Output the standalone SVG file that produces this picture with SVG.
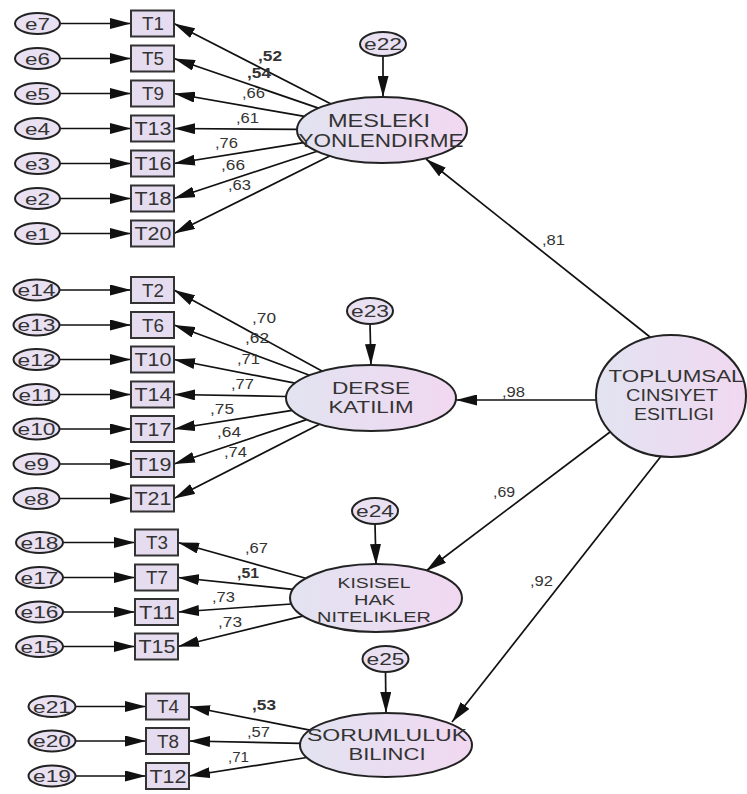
<svg xmlns="http://www.w3.org/2000/svg" width="747" height="794" viewBox="0 0 747 794">
<defs>
<linearGradient id="gl" x1="0" y1="0" x2="1" y2="0">
<stop offset="0" stop-color="#e2e3f1"/>
<stop offset="1" stop-color="#f1d8f1"/>
</linearGradient>
<marker id="ah" markerUnits="userSpaceOnUse" markerWidth="21" markerHeight="11" refX="21" refY="5.5" orient="auto">
<path d="M0,0 L21,5.5 L0,11 z" fill="#111"/>
</marker>
</defs>
<style>
.lat{fill:url(#gl);stroke:#222;stroke-width:2}
.err{fill:#e9e1f2;stroke:#222;stroke-width:2}
.obs{fill:#e6dcef;stroke:#333;stroke-width:2}
.c{stroke:#111;stroke-width:1.7;fill:none;marker-end:url(#ah)}
text{font-family:"Liberation Sans",Arial,sans-serif;fill:#333}
.t{font-size:18px;text-anchor:middle}
.e{font-size:17px;text-anchor:middle}
.w{font-size:14px}
.b{font-weight:bold}
.ln{font-size:17.5px;text-anchor:middle}
.lm{font-size:16px;text-anchor:middle}
.ls{font-size:14.5px;text-anchor:middle}
</style>
<rect width="747" height="794" fill="#fff"/>
<g id="connectors">
<path class="c" d="M60,23.5 L131,23.5"/>
<path class="c" d="M60,58.5 L131,58.5"/>
<path class="c" d="M60,93.5 L131,93.5"/>
<path class="c" d="M60,128.5 L131,128.5"/>
<path class="c" d="M60,163.5 L131,163.5"/>
<path class="c" d="M60,198.5 L131,198.5"/>
<path class="c" d="M60,233.5 L131,233.5"/>
<path class="c" d="M59.5,290 L131,290"/>
<path class="c" d="M59.5,325 L131,325"/>
<path class="c" d="M59.5,359.5 L131,359.5"/>
<path class="c" d="M59.5,394.5 L131,394.5"/>
<path class="c" d="M59.5,429 L131,429"/>
<path class="c" d="M59.5,464 L131,464"/>
<path class="c" d="M59.5,498.5 L131,498.5"/>
<path class="c" d="M63,542.5 L135,542.5"/>
<path class="c" d="M63,577.5 L135,577.5"/>
<path class="c" d="M63,612 L135,612"/>
<path class="c" d="M63,646.5 L135,646.5"/>
<path class="c" d="M75.5,706.5 L146,706.5"/>
<path class="c" d="M75.5,741 L146,741"/>
<path class="c" d="M75.5,776 L146,776"/>
<path class="c" d="M330.6,103.7 L174,23.5"/>
<path class="c" d="M318.4,108.1 L174,58.5"/>
<path class="c" d="M304.5,116.4 L174,93.5"/>
<path class="c" d="M297,129.4 L174,128.5"/>
<path class="c" d="M303.5,142.6 L174,163.5"/>
<path class="c" d="M317.2,151.3 L174,198.5"/>
<path class="c" d="M329.7,156 L174,233.5"/>
<path class="c" d="M321.9,371.1 L174,290"/>
<path class="c" d="M309.5,375.2 L174,325"/>
<path class="c" d="M295.1,383.2 L174,359.5"/>
<path class="c" d="M286.1,396.5 L174,394.5"/>
<path class="c" d="M292.2,410.4 L174,429"/>
<path class="c" d="M306.6,419.6 L174,464"/>
<path class="c" d="M319.5,424.3 L174,498.5"/>
<path class="c" d="M306.6,578.5 L178,542.5"/>
<path class="c" d="M293,589.4 L178,577.5"/>
<path class="c" d="M291.4,604 L178,612"/>
<path class="c" d="M303.5,615.8 L178,646.5"/>
<path class="c" d="M309.9,730.1 L189,706.5"/>
<path class="c" d="M300.1,743.3 L189,741"/>
<path class="c" d="M306.8,757.5 L189,776"/>
<path class="c" d="M383,56 L383,97"/>
<path class="c" d="M370,324 L371,365"/>
<path class="c" d="M375,524 L376,565"/>
<path class="c" d="M385.5,672 L386,713"/>
<path class="c" d="M650,337 L426,159"/>
<path class="c" d="M597,400 L456,400"/>
<path class="c" d="M610,432 L426,571"/>
<path class="c" d="M662,455 L452,722"/>
<text class="w b" x="258" y="61" textLength="24" lengthAdjust="spacingAndGlyphs">,52</text>
<text class="w b" x="247" y="78" textLength="24" lengthAdjust="spacingAndGlyphs">,54</text>
<text class="w" x="242" y="98" textLength="23" lengthAdjust="spacingAndGlyphs">,66</text>
<text class="w" x="236" y="123" textLength="23" lengthAdjust="spacingAndGlyphs">,61</text>
<text class="w" x="215" y="148" textLength="23" lengthAdjust="spacingAndGlyphs">,76</text>
<text class="w" x="221" y="170" textLength="24" lengthAdjust="spacingAndGlyphs">,66</text>
<text class="w" x="228" y="190" textLength="23" lengthAdjust="spacingAndGlyphs">,63</text>
<text class="w" x="252" y="323" textLength="24" lengthAdjust="spacingAndGlyphs">,70</text>
<text class="w" x="245" y="343" textLength="24" lengthAdjust="spacingAndGlyphs">,62</text>
<text class="w" x="237" y="364" textLength="23" lengthAdjust="spacingAndGlyphs">,71</text>
<text class="w" x="231" y="389" textLength="23" lengthAdjust="spacingAndGlyphs">,77</text>
<text class="w" x="210" y="414" textLength="24" lengthAdjust="spacingAndGlyphs">,75</text>
<text class="w" x="217" y="437" textLength="24" lengthAdjust="spacingAndGlyphs">,64</text>
<text class="w" x="224" y="457" textLength="23" lengthAdjust="spacingAndGlyphs">,74</text>
<text class="w" x="245" y="553" textLength="23" lengthAdjust="spacingAndGlyphs">,67</text>
<text class="w b" x="237" y="578" textLength="22" lengthAdjust="spacingAndGlyphs">,51</text>
<text class="w" x="212" y="602" textLength="23" lengthAdjust="spacingAndGlyphs">,73</text>
<text class="w" x="218" y="627" textLength="24" lengthAdjust="spacingAndGlyphs">,73</text>
<text class="w b" x="252" y="710" textLength="24" lengthAdjust="spacingAndGlyphs">,53</text>
<text class="w" x="247" y="737" textLength="23" lengthAdjust="spacingAndGlyphs">,57</text>
<text class="w" x="228" y="762" textLength="21" lengthAdjust="spacingAndGlyphs">,71</text>
<text class="w" x="542" y="245" textLength="23" lengthAdjust="spacingAndGlyphs">,81</text>
<text class="w" x="502" y="397" textLength="23" lengthAdjust="spacingAndGlyphs">,98</text>
<text class="w" x="493" y="497" textLength="22" lengthAdjust="spacingAndGlyphs">,69</text>
<text class="w" x="530" y="586" textLength="23" lengthAdjust="spacingAndGlyphs">,92</text>
</g>
<g id="T1"><rect class="obs" x="131" y="10.5" width="43" height="26"/><text class="t" x="153" y="30" textLength="22" lengthAdjust="spacingAndGlyphs">T1</text></g>
<g id="T5"><rect class="obs" x="131" y="45.5" width="43" height="26"/><text class="t" x="153" y="65" textLength="22" lengthAdjust="spacingAndGlyphs">T5</text></g>
<g id="T9"><rect class="obs" x="131" y="80.5" width="43" height="26"/><text class="t" x="153" y="100" textLength="22" lengthAdjust="spacingAndGlyphs">T9</text></g>
<g id="T13"><rect class="obs" x="131" y="115.5" width="43" height="26"/><text class="t" x="153" y="135" textLength="37" lengthAdjust="spacingAndGlyphs">T13</text></g>
<g id="T16"><rect class="obs" x="131" y="150.5" width="43" height="26"/><text class="t" x="153" y="170" textLength="37" lengthAdjust="spacingAndGlyphs">T16</text></g>
<g id="T18"><rect class="obs" x="131" y="185.5" width="43" height="26"/><text class="t" x="153" y="205" textLength="37" lengthAdjust="spacingAndGlyphs">T18</text></g>
<g id="T20"><rect class="obs" x="131" y="220.5" width="43" height="26"/><text class="t" x="153" y="240" textLength="37" lengthAdjust="spacingAndGlyphs">T20</text></g>
<g id="e7"><ellipse class="err" cx="37.5" cy="23.5" rx="22.5" ry="10.5"/><text class="e" x="37.5" y="29.5" textLength="25" lengthAdjust="spacingAndGlyphs">e7</text></g>
<g id="e6"><ellipse class="err" cx="37.5" cy="58.5" rx="22.5" ry="10.5"/><text class="e" x="37.5" y="64.5" textLength="25" lengthAdjust="spacingAndGlyphs">e6</text></g>
<g id="e5"><ellipse class="err" cx="37.5" cy="93.5" rx="22.5" ry="10.5"/><text class="e" x="37.5" y="99.5" textLength="25" lengthAdjust="spacingAndGlyphs">e5</text></g>
<g id="e4"><ellipse class="err" cx="37.5" cy="128.5" rx="22.5" ry="10.5"/><text class="e" x="37.5" y="134.5" textLength="25" lengthAdjust="spacingAndGlyphs">e4</text></g>
<g id="e3"><ellipse class="err" cx="37.5" cy="163.5" rx="22.5" ry="10.5"/><text class="e" x="37.5" y="169.5" textLength="25" lengthAdjust="spacingAndGlyphs">e3</text></g>
<g id="e2"><ellipse class="err" cx="37.5" cy="198.5" rx="22.5" ry="10.5"/><text class="e" x="37.5" y="204.5" textLength="25" lengthAdjust="spacingAndGlyphs">e2</text></g>
<g id="e1"><ellipse class="err" cx="37.5" cy="233.5" rx="22.5" ry="10.5"/><text class="e" x="37.5" y="239.5" textLength="25" lengthAdjust="spacingAndGlyphs">e1</text></g>
<g id="T2"><rect class="obs" x="131" y="277" width="43" height="26"/><text class="t" x="153" y="296.5" textLength="22" lengthAdjust="spacingAndGlyphs">T2</text></g>
<g id="T6"><rect class="obs" x="131" y="312" width="43" height="26"/><text class="t" x="153" y="331.5" textLength="22" lengthAdjust="spacingAndGlyphs">T6</text></g>
<g id="T10"><rect class="obs" x="131" y="346.5" width="43" height="26"/><text class="t" x="153" y="366" textLength="37" lengthAdjust="spacingAndGlyphs">T10</text></g>
<g id="T14"><rect class="obs" x="131" y="381.5" width="43" height="26"/><text class="t" x="153" y="401" textLength="37" lengthAdjust="spacingAndGlyphs">T14</text></g>
<g id="T17"><rect class="obs" x="131" y="416" width="43" height="26"/><text class="t" x="153" y="435.5" textLength="37" lengthAdjust="spacingAndGlyphs">T17</text></g>
<g id="T19"><rect class="obs" x="131" y="451" width="43" height="26"/><text class="t" x="153" y="470.5" textLength="37" lengthAdjust="spacingAndGlyphs">T19</text></g>
<g id="T21"><rect class="obs" x="131" y="485.5" width="43" height="26"/><text class="t" x="153" y="505" textLength="37" lengthAdjust="spacingAndGlyphs">T21</text></g>
<g id="e14"><ellipse class="err" cx="36.5" cy="290" rx="23" ry="10.5"/><text class="e" x="36.5" y="296" textLength="38" lengthAdjust="spacingAndGlyphs">e14</text></g>
<g id="e13"><ellipse class="err" cx="36.5" cy="325" rx="23" ry="10.5"/><text class="e" x="36.5" y="331" textLength="38" lengthAdjust="spacingAndGlyphs">e13</text></g>
<g id="e12"><ellipse class="err" cx="36.5" cy="359.5" rx="23" ry="10.5"/><text class="e" x="36.5" y="365.5" textLength="38" lengthAdjust="spacingAndGlyphs">e12</text></g>
<g id="e11"><ellipse class="err" cx="36.5" cy="394.5" rx="23" ry="10.5"/><text class="e" x="36.5" y="400.5" textLength="36" lengthAdjust="spacingAndGlyphs">e11</text></g>
<g id="e10"><ellipse class="err" cx="36.5" cy="429" rx="23" ry="10.5"/><text class="e" x="36.5" y="435" textLength="38" lengthAdjust="spacingAndGlyphs">e10</text></g>
<g id="e9"><ellipse class="err" cx="36.5" cy="464" rx="23" ry="10.5"/><text class="e" x="36.5" y="470" textLength="25" lengthAdjust="spacingAndGlyphs">e9</text></g>
<g id="e8"><ellipse class="err" cx="36.5" cy="498.5" rx="23" ry="10.5"/><text class="e" x="36.5" y="504.5" textLength="25" lengthAdjust="spacingAndGlyphs">e8</text></g>
<g id="T3"><rect class="obs" x="135" y="529.5" width="43" height="26"/><text class="t" x="157" y="549" textLength="22" lengthAdjust="spacingAndGlyphs">T3</text></g>
<g id="T7"><rect class="obs" x="135" y="564.5" width="43" height="26"/><text class="t" x="157" y="584" textLength="22" lengthAdjust="spacingAndGlyphs">T7</text></g>
<g id="T11"><rect class="obs" x="135" y="599" width="43" height="26"/><text class="t" x="157" y="618.5" textLength="36" lengthAdjust="spacingAndGlyphs">T11</text></g>
<g id="T15"><rect class="obs" x="135" y="633.5" width="43" height="26"/><text class="t" x="157" y="653" textLength="37" lengthAdjust="spacingAndGlyphs">T15</text></g>
<g id="e18"><ellipse class="err" cx="39.5" cy="542.5" rx="23.5" ry="10.5"/><text class="e" x="39.5" y="548.5" textLength="38" lengthAdjust="spacingAndGlyphs">e18</text></g>
<g id="e17"><ellipse class="err" cx="39.5" cy="577.5" rx="23.5" ry="10.5"/><text class="e" x="39.5" y="583.5" textLength="38" lengthAdjust="spacingAndGlyphs">e17</text></g>
<g id="e16"><ellipse class="err" cx="39.5" cy="612" rx="23.5" ry="10.5"/><text class="e" x="39.5" y="618" textLength="38" lengthAdjust="spacingAndGlyphs">e16</text></g>
<g id="e15"><ellipse class="err" cx="39.5" cy="646.5" rx="23.5" ry="10.5"/><text class="e" x="39.5" y="652.5" textLength="38" lengthAdjust="spacingAndGlyphs">e15</text></g>
<g id="T4"><rect class="obs" x="146" y="693.5" width="43" height="26"/><text class="t" x="168" y="713" textLength="22" lengthAdjust="spacingAndGlyphs">T4</text></g>
<g id="T8"><rect class="obs" x="146" y="728" width="43" height="26"/><text class="t" x="168" y="747.5" textLength="22" lengthAdjust="spacingAndGlyphs">T8</text></g>
<g id="T12"><rect class="obs" x="146" y="763" width="43" height="26"/><text class="t" x="168" y="782.5" textLength="37" lengthAdjust="spacingAndGlyphs">T12</text></g>
<g id="e21"><ellipse class="err" cx="52" cy="706.5" rx="23.5" ry="10.5"/><text class="e" x="52" y="712.5" textLength="38" lengthAdjust="spacingAndGlyphs">e21</text></g>
<g id="e20"><ellipse class="err" cx="52" cy="741" rx="23.5" ry="10.5"/><text class="e" x="52" y="747" textLength="38" lengthAdjust="spacingAndGlyphs">e20</text></g>
<g id="e19"><ellipse class="err" cx="52" cy="776" rx="23.5" ry="10.5"/><text class="e" x="52" y="782" textLength="38" lengthAdjust="spacingAndGlyphs">e19</text></g>
<g id="e22"><ellipse class="err" cx="383" cy="44" rx="23" ry="12"/><text class="e" x="383" y="50" textLength="38" lengthAdjust="spacingAndGlyphs">e22</text></g>
<g id="e23"><ellipse class="err" cx="370" cy="311" rx="23" ry="13"/><text class="e" x="370" y="317" textLength="38" lengthAdjust="spacingAndGlyphs">e23</text></g>
<g id="e24"><ellipse class="err" cx="375" cy="511" rx="23" ry="13"/><text class="e" x="375" y="517" textLength="38" lengthAdjust="spacingAndGlyphs">e24</text></g>
<g id="e25"><ellipse class="err" cx="385.5" cy="659" rx="23" ry="13"/><text class="e" x="385.5" y="665" textLength="38" lengthAdjust="spacingAndGlyphs">e25</text></g>
<g id="MESLEKI"><ellipse class="lat" cx="382" cy="130" rx="85" ry="33"/><text class="ln" x="379" y="127" textLength="102" lengthAdjust="spacingAndGlyphs">MESLEKI</text><text class="ln" x="381" y="147" textLength="165" lengthAdjust="spacingAndGlyphs">YONLENDIRME</text></g>
<g id="DERSE"><ellipse class="lat" cx="371" cy="398" rx="85" ry="33"/><text class="lm" x="371" y="394" textLength="78" lengthAdjust="spacingAndGlyphs">DERSE</text><text class="lm" x="371" y="413" textLength="85" lengthAdjust="spacingAndGlyphs">KATILIM</text></g>
<g id="KISISEL"><ellipse class="lat" cx="376" cy="598" rx="86" ry="34"/><text class="ls" x="374" y="588" textLength="73" lengthAdjust="spacingAndGlyphs">KISISEL</text><text class="ls" x="374.5" y="605" textLength="41" lengthAdjust="spacingAndGlyphs">HAK</text><text class="ls" x="374" y="622" textLength="114" lengthAdjust="spacingAndGlyphs">NITELIKLER</text></g>
<g id="SORUMLULUK"><ellipse class="lat" cx="386" cy="745" rx="86" ry="32"/><text class="lm" x="387" y="741" textLength="160" lengthAdjust="spacingAndGlyphs">SORUMLULUK</text><text class="lm" x="387" y="760" textLength="77" lengthAdjust="spacingAndGlyphs">BILINCI</text></g>
<g id="TOPLUMSAL"><ellipse class="lat" cx="671" cy="396" rx="75" ry="61"/><text class="lm" x="676" y="382" textLength="135" lengthAdjust="spacingAndGlyphs">TOPLUMSAL</text><text class="lm" x="672" y="401" textLength="92" lengthAdjust="spacingAndGlyphs">CINSIYET</text><text class="lm" x="674" y="420" textLength="80" lengthAdjust="spacingAndGlyphs">ESITLIGI</text></g>
</svg>
